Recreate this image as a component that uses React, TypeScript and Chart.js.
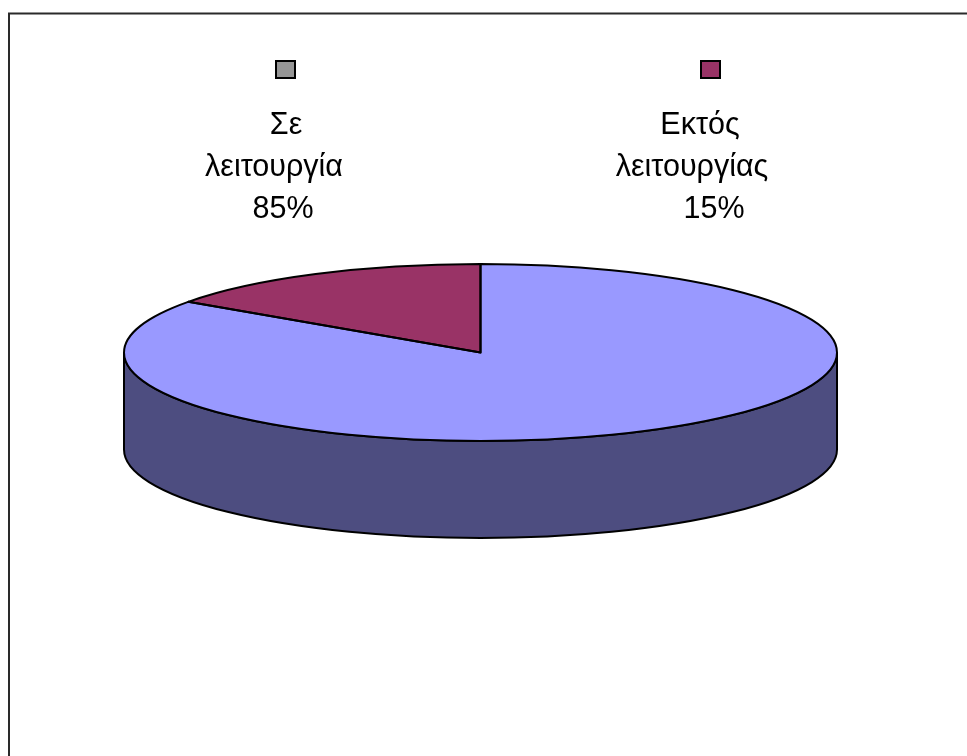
import React, { useEffect, useRef } from "react";
import { Chart, registerables } from "chart.js";

Chart.register(...registerables);

const categories = ["Εκτός λειτουργίας", "Σε λειτουργία"];
const sliceValues = [15.3, 84.7];
const sliceColors = ["#993366", "#9999FF"];
const wallColor = "#4D4D80";

const legendLines = [
  [
    { text: "Σε", x: 286 },
    { text: "λειτουργία", x: 274 },
    { text: "85%", x: 283 },
  ],
  [
    { text: "Εκτός", x: 700 },
    { text: "λειτουργίας", x: 692 },
    { text: "15%", x: 714 },
  ],
];
const legendSwatches = [
  { x: 276, color: "#969696" },
  { x: 701, color: "#993366" },
];

const CENTER_Y = 352.5;
const RADIUS_Y = 88.5;
const DEPTH = 97;
const OUTLINE = 2;

const pie3d = {
  id: "pie3d",
  beforeDatasetsDraw(chart: any) {
    const ctx = chart.ctx as CanvasRenderingContext2D;
    const arcs = chart.getDatasetMeta(0).data;
    const { x, y, outerRadius } = arcs[0].getProps(["x", "y", "outerRadius"], true);
    const k = RADIUS_Y / outerRadius;
    chart.$pieState = { x, y, outerRadius, k };

    // Frame
    ctx.save();
    ctx.strokeStyle = "#2a2a2a";
    ctx.lineWidth = 2;
    ctx.beginPath();
    ctx.moveTo(9, chart.height);
    ctx.lineTo(9, 13.5);
    ctx.lineTo(chart.width, 13.5);
    ctx.stroke();
    ctx.restore();

    // Side wall
    ctx.save();
    ctx.beginPath();
    ctx.ellipse(x, CENTER_Y, outerRadius, RADIUS_Y, 0, 0, Math.PI);
    ctx.lineTo(x - outerRadius, CENTER_Y + DEPTH);
    ctx.ellipse(x, CENTER_Y + DEPTH, outerRadius, RADIUS_Y, 0, Math.PI, 0, true);
    ctx.closePath();
    ctx.fillStyle = wallColor;
    ctx.fill();
    ctx.strokeStyle = "#000";
    ctx.lineWidth = OUTLINE;
    ctx.stroke();
    ctx.restore();

    // Squash the pie into an ellipse for the library's arc drawing
    ctx.save();
    ctx.translate(0, CENTER_Y);
    ctx.scale(1, k);
    ctx.translate(0, -y);
  },
  afterDatasetsDraw(chart: any) {
    const ctx = chart.ctx as CanvasRenderingContext2D;
    ctx.restore();
    const { x, outerRadius, k } = chart.$pieState;
    const arcs = chart.getDatasetMeta(0).data;
    arcs.forEach((el: any) => {
      const { startAngle, endAngle } = el.getProps(["startAngle", "endAngle"], true);
      ctx.save();
      ctx.beginPath();
      ctx.ellipse(x, CENTER_Y, outerRadius, outerRadius * k, 0, startAngle, endAngle);
      ctx.lineTo(x, CENTER_Y);
      ctx.closePath();
      ctx.strokeStyle = "#000";
      ctx.lineWidth = OUTLINE;
      ctx.lineJoin = "round";
      ctx.stroke();
      ctx.restore();
    });
  },
  afterDraw(chart: any) {
    const ctx = chart.ctx as CanvasRenderingContext2D;
    ctx.save();
    legendSwatches.forEach((s) => {
      ctx.fillStyle = s.color;
      ctx.fillRect(s.x, 61, 19, 17);
      ctx.strokeStyle = "#000";
      ctx.lineWidth = 2;
      ctx.strokeRect(s.x, 61, 19, 17);
    });
    ctx.fillStyle = "#000";
    ctx.font = '30.5px "Liberation Sans", Arial, sans-serif';
    ctx.textAlign = "center";
    ctx.textBaseline = "alphabetic";
    legendLines.forEach((lines) => {
      lines.forEach((line, i) => ctx.fillText(line.text, line.x, 134 + i * 42));
    });
    ctx.restore();
  },
};

export default function App() {
  const ref = useRef<HTMLCanvasElement>(null);
  useEffect(() => {
    const total = sliceValues.reduce((a, b) => a + b, 0);
    const chart = new Chart(ref.current!, {
      type: "pie",
      data: {
        labels: categories,
        datasets: [
          {
            data: sliceValues,
            backgroundColor: sliceColors,
            borderWidth: 0,
          },
        ],
      },
      options: {
        animation: false,
        responsive: false,
        rotation: -(sliceValues[0] / total) * 360,
        layout: { padding: { left: 124, right: 130, top: 21, bottom: 22 } },
        plugins: {
          legend: { display: false },
          title: { display: false },
          tooltip: { enabled: false },
        },
      },
      plugins: [pie3d],
    });
    return () => chart.destroy();
  }, []);
  return (
    <canvas
      ref={ref}
      width={967}
      height={756}
      style={{ position: "fixed", left: 0, top: 0, width: 967, height: 756, display: "block", background: "#fff" }}
    />
  );
}
